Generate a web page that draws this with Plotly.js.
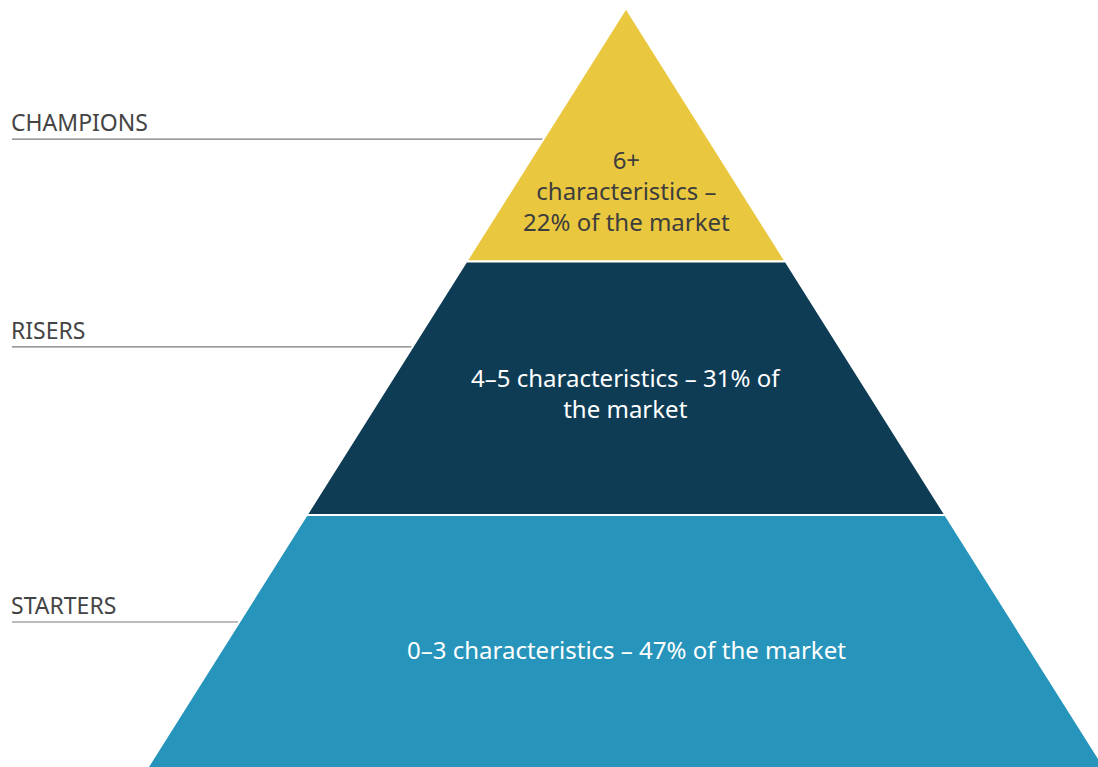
<!DOCTYPE html>
<html>
<head>
<meta charset="utf-8">
<script src="https://cdn.plot.ly/plotly-3.0.1.min.js"></script>
<style>html,body{margin:0;padding:0;background:#fff;}#chart{width:1098px;height:767px;}</style>
</head>
<body>
<div id="chart"></div>
<script>
// Data
const tiers = ['CHAMPIONS', 'RISERS', 'STARTERS'];
const descriptions = [
  '6+<br>characteristics –<br>22% of the market',
  '4–5 characteristics – 31% of<br>the market',
  '0–3 characteristics – 47% of the market'
];
const tierColors = ['#E9C73F', '#0E3C55', '#2795BB'];
const textColors = ['#3d3d3d', '#ffffff', '#ffffff'];

// Layout constants (style/position, not data)
const textOffset = [0.72, 0.52, 0.53];
const leaderOffset = [0.517, 0.337, 0.422];
const FONT = '"Noto Sans", sans-serif';

function xFromPx(px) { return (px - 626) / 159.7; }
const unit = 253.5;

const traces = tiers.map((t, i) => {
  const top = i, bot = i + 1;
  return {
    type: 'scatter', mode: 'lines', fill: 'toself',
    x: [-top, top, bot, -bot, -top],
    y: [top, top, bot, bot, top],
    fillcolor: tierColors[i],
    line: {color: '#ffffff', width: 2},
    hoverinfo: 'skip', showlegend: false
  };
});

const annotations = [];
const shapes = [];
tiers.forEach((t, i) => {
  annotations.push({
    x: 0, y: i + textOffset[i], xref: 'x', yref: 'y',
    text: descriptions[i], showarrow: false,
    font: {family: FONT, size: 24, color: textColors[i]},
    align: 'center', xanchor: 'center', yanchor: 'middle'
  });
  const ly = i + leaderOffset[i];
  shapes.push({
    type: 'line', xref: 'x', yref: 'y',
    x0: xFromPx(12), x1: -ly, y0: ly, y1: ly,
    line: {color: '#7a7a7a', width: 1.2}, layer: 'below'
  });
  annotations.push({
    x: xFromPx(10), y: ly, xref: 'x', yref: 'y',
    text: t, showarrow: false, borderpad: 0,
    font: {family: FONT, size: 23, color: '#444444'},
    xanchor: 'left', yanchor: 'bottom'
  });
});

const layout = {
  width: 1098, height: 767,
  margin: {l: 0, r: 0, t: 0, b: 0},
  paper_bgcolor: '#ffffff', plot_bgcolor: '#ffffff',
  xaxis: {range: [xFromPx(0), xFromPx(1098)], visible: false, fixedrange: true},
  yaxis: {range: [(767 - 8) / unit, -8 / unit], visible: false, fixedrange: true},
  shapes: shapes,
  annotations: annotations,
  showlegend: false
};

Plotly.newPlot('chart', traces, layout, {displayModeBar: false, staticPlot: true});
</script>
</body>
</html>
